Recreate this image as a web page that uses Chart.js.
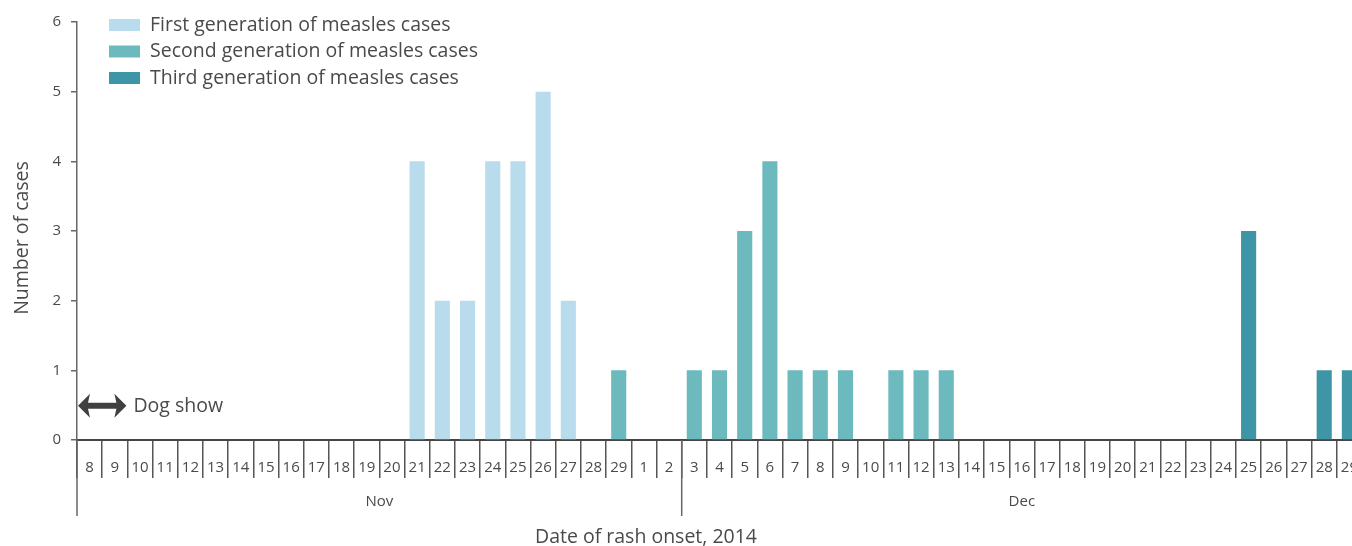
<!DOCTYPE html>
<html>
<head>
<meta charset="utf-8">
<script src="https://cdn.jsdelivr.net/npm/chart.js@4"></script>
<style>
  html, body { margin: 0; padding: 0; background: #fff; overflow: hidden; }
  .wrap { width: 1366px; height: 546px; }
</style>
</head>
<body>
<div class="wrap"><canvas id="rashChart"></canvas></div>
<script>
// Date of rash onset: Nov 8 .. 29, then 1, 2, then Dec 3 .. 29 (as printed)
const days = ['8','9','10','11','12','13','14','15','16','17','18','19','20','21','22','23','24','25','26','27','28','29',
              '1','2',
              '3','4','5','6','7','8','9','10','11','12','13','14','15','16','17','18','19','20','21','22','23','24','25','26','27','28','29'];
const months = ['Nov', 'Dec'];
const monthStart = [0, 24]; // index of first category of each month block
const yTicks = [0, 1, 2, 3, 4, 5, 6];

const firstGen  = [0,0,0,0,0,0,0,0,0,0,0,0,0,4,2,2,4,4,5,2,0,0, 0,0, 0,0,0,0,0,0,0,0,0,0,0,0,0,0,0,0,0,0,0,0,0,0,0,0,0,0,0];
const secondGen = [0,0,0,0,0,0,0,0,0,0,0,0,0,0,0,0,0,0,0,0,0,1, 0,0, 1,1,3,4,1,1,1,0,1,1,1,0,0,0,0,0,0,0,0,0,0,0,0,0,0,0,0];
const thirdGen  = [0,0,0,0,0,0,0,0,0,0,0,0,0,0,0,0,0,0,0,0,0,0, 0,0, 0,0,0,0,0,0,0,0,0,0,0,0,0,0,0,0,0,0,0,0,0,0,3,0,0,1,1];

const seriesNames = ['First generation of measles cases', 'Second generation of measles cases', 'Third generation of measles cases'];
const seriesColors = ['#b9dcec', '#6dbabe', '#3d95a5'];

const textColor = '#4a4a4a';
const fontFam = '"Open Sans", sans-serif';

const extras = {
    id: 'extras',
    afterDraw(chart) {
        const ctx = chart.ctx;
        const xs = chart.scales.x;
        const ys = chart.scales.y;
        const area = chart.chartArea;
        const step = xs.getPixelForValue(1) - xs.getPixelForValue(0);
        const bottomLine = 516;
        ctx.save();

        // y axis line continues down past the tick labels
        ctx.strokeStyle = '#666';
        ctx.lineWidth = 1.5;
        ctx.beginPath();
        ctx.moveTo(area.left, area.bottom);
        ctx.lineTo(area.left, bottomLine);
        ctx.stroke();

        // month divider + month names
        const edges = [];
        monthStart.forEach(i => edges.push(xs.getPixelForValue(i) - step / 2));
        edges.push(xs.getPixelForValue(days.length - 1) + step / 2);
        ctx.beginPath();
        ctx.moveTo(edges[1], area.bottom);
        ctx.lineTo(edges[1], bottomLine);
        ctx.stroke();

        ctx.fillStyle = textColor;
        ctx.font = '15px ' + fontFam;
        ctx.textAlign = 'center';
        ctx.textBaseline = 'middle';
        months.forEach((m, k) => ctx.fillText(m, (edges[k] + edges[k + 1]) / 2, 502));

        // axis titles
        ctx.font = '19.5px ' + fontFam;
        ctx.fillText('Date of rash onset, 2014', 646, 537);
        ctx.save();
        ctx.translate(22, 238);
        ctx.rotate(-Math.PI / 2);
        ctx.fillText('Number of cases', 0, 0);
        ctx.restore();

        // Dog show arrow (Nov 8 - 9)
        const ax0 = xs.getPixelForValue(0) - step / 2 + 1;
        const ax1 = xs.getPixelForValue(1) + step / 2 - 1;
        const ay = ys.getPixelForValue(0.49);
        const head = 12, half = 12, shaft = 3, notch = 2;
        ctx.fillStyle = '#404040';
        ctx.beginPath();
        ctx.moveTo(ax0, ay);
        ctx.lineTo(ax0 + head, ay - half);
        ctx.lineTo(ax0 + head - notch, ay - shaft);
        ctx.lineTo(ax1 - head + notch, ay - shaft);
        ctx.lineTo(ax1 - head, ay - half);
        ctx.lineTo(ax1, ay);
        ctx.lineTo(ax1 - head, ay + half);
        ctx.lineTo(ax1 - head + notch, ay + shaft);
        ctx.lineTo(ax0 + head - notch, ay + shaft);
        ctx.lineTo(ax0 + head, ay + half);
        ctx.closePath();
        ctx.fill();
        ctx.fillStyle = textColor;
        ctx.textAlign = 'left';
        ctx.font = '19.5px ' + fontFam;
        ctx.fillText('Dog show', ax1 + 7, ay + 1);

        // legend
        seriesNames.forEach((name, k) => {
            const ly = 25 + k * 26.5;
            ctx.fillStyle = seriesColors[k];
            ctx.fillRect(109, ly - 6, 31, 12);
            ctx.fillStyle = textColor;
            ctx.fillText(name, 150, ly);
        });
        ctx.restore();
    }
};

const ctxBar = document.getElementById('rashChart').getContext('2d');
const rashChart = new Chart(ctxBar, {
    type: 'bar',
    data: {
        labels: days,
        datasets: seriesNames.map((name, k) => ({
            label: name,
            data: [firstGen, secondGen, thirdGen][k],
            backgroundColor: seriesColors[k],
            borderWidth: 0,
            barPercentage: 0.6,
            categoryPercentage: 1
        }))
    },
    options: {
        responsive: true,
        maintainAspectRatio: false,
        animation: false,
        layout: { padding: { top: 22, right: 4, left: 0, bottom: 0 } },
        plugins: { legend: { display: false }, tooltip: { enabled: false } },
        scales: {
            x: {
                stacked: true,
                border: { color: '#444', width: 2 },
                grid: { offset: true, drawOnChartArea: false, drawTicks: true, tickLength: 38, color: '#555', lineWidth: 1.5 },
                ticks: { autoSkip: false, maxRotation: 0, padding: -19, color: textColor, font: { family: fontFam, size: 15 } },
                afterFit(scale) { scale.height = 106; }
            },
            y: {
                stacked: true,
                min: 0,
                max: 6,
                afterBuildTicks(scale) { scale.ticks = yTicks.map(v => ({ value: v })); },
                border: { color: '#666', width: 1.5 },
                grid: { drawOnChartArea: false, drawTicks: true, tickLength: 6, color: '#666', lineWidth: 1.5 },
                ticks: { padding: 10, color: textColor, font: { family: fontFam, size: 15 } },
                afterFit(scale) { scale.width = 77; }
            }
        }
    },
    plugins: [extras]
});
</script>
</body>
</html>
